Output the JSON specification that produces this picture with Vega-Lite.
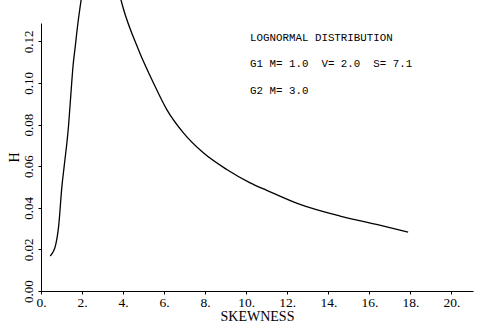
{
  "$schema": "https://vega.github.io/schema/vega-lite/v6.json",
  "width": 432,
  "height": 268,
  "autosize": "none",
  "padding": {"left": 41, "top": 23, "right": 5, "bottom": 37},
  "background": "white",
  "config": {"view": {"stroke": null}},
  "datasets": {
    "curve": [
      {"branch": "a", "s": 0.45, "h": 0.0168},
      {"branch": "a", "s": 0.6, "h": 0.019},
      {"branch": "a", "s": 0.7, "h": 0.0216},
      {"branch": "a", "s": 0.86, "h": 0.0312},
      {"branch": "a", "s": 1.02, "h": 0.0504},
      {"branch": "a", "s": 1.13, "h": 0.06},
      {"branch": "a", "s": 1.34, "h": 0.0792},
      {"branch": "a", "s": 1.46, "h": 0.0952},
      {"branch": "a", "s": 1.56, "h": 0.108},
      {"branch": "a", "s": 1.67, "h": 0.1176},
      {"branch": "a", "s": 1.8, "h": 0.1288},
      {"branch": "a", "s": 1.91, "h": 0.1368},
      {"branch": "a", "s": 2.0, "h": 0.143},
      {"branch": "b", "s": 3.88, "h": 0.1405},
      {"branch": "b", "s": 3.99, "h": 0.1365},
      {"branch": "b", "s": 4.75, "h": 0.116},
      {"branch": "b", "s": 5.48, "h": 0.1},
      {"branch": "b", "s": 6.13, "h": 0.0872},
      {"branch": "b", "s": 6.94, "h": 0.076},
      {"branch": "b", "s": 7.91, "h": 0.0664},
      {"branch": "b", "s": 9.05, "h": 0.0584},
      {"branch": "b", "s": 10.19, "h": 0.052},
      {"branch": "b", "s": 11.0, "h": 0.0484},
      {"branch": "b", "s": 12.62, "h": 0.0416},
      {"branch": "b", "s": 14.57, "h": 0.036},
      {"branch": "b", "s": 16.35, "h": 0.032},
      {"branch": "b", "s": 17.89, "h": 0.0283}
    ],
    "notes": [
      {"s": 10.19, "h": 0.1218, "label": "LOGNORMAL DISTRIBUTION"},
      {"s": 10.19, "h": 0.1093, "label": "G1 M= 1.0\u00a0\u00a0V= 2.0\u00a0\u00a0S= 7.1"},
      {"s": 10.19, "h": 0.0963, "label": "G2 M= 3.0"}
    ]
  },
  "layer": [
    {
      "data": {"name": "curve"},
      "mark": {"type": "line", "color": "black", "strokeWidth": 1.3, "interpolate": "monotone"},
      "encoding": {
        "x": {
          "field": "s", "type": "quantitative",
          "scale": {"domain": [0, 21.05], "nice": false, "zero": false},
          "axis": {
            "title": "SKEWNESS",
            "values": [0,1,2,3,4,5,6,7,8,9,10,11,12,13,14,15,16,17,18,19,20,21],
            "labelExpr": "datum.value % 2 == 0 && datum.value <= 20 ? format(datum.value, 'd') + '.' : ''",
            "grid": false,
            "domainColor": "black",
            "tickColor": "black",
            "tickSize": 3,
            "labelPadding": 1,
            "labelFont": "Liberation Serif",
            "labelFontSize": 13.5,
            "labelColor": "black",
            "labelFlush": false,
            "labelOverlap": false,
            "titleFont": "Liberation Serif",
            "titleFontSize": 14,
            "titleFontWeight": "normal",
            "titleColor": "black",
            "titlePadding": 1
          }
        },
        "y": {
          "field": "h", "type": "quantitative",
          "scale": {"domain": [0, 0.1288], "nice": false, "zero": false},
          "axis": {
            "title": "H",
            "values": [0,0.01,0.02,0.03,0.04,0.05,0.06,0.07,0.08,0.09,0.1,0.11,0.12],
            "labelExpr": "round(datum.value * 100) % 2 == 0 ? format(datum.value, '.2f') : ''",
            "grid": false,
            "domainColor": "black",
            "tickColor": "black",
            "tickSize": 3,
            "labelAngle": 270,
            "labelAlign": "center",
            "labelBaseline": "bottom",
            "labelPadding": 3,
            "labelFont": "Liberation Serif",
            "labelFontSize": 13,
            "labelColor": "black",
            "labelFlush": false,
            "labelOverlap": false,
            "titleFont": "Liberation Serif",
            "titleFontSize": 14,
            "titleFontWeight": "normal",
            "titleColor": "black",
            "titlePadding": 1
          }
        },
        "detail": {"field": "branch"}
      }
    },
    {
      "data": {"name": "notes"},
      "mark": {"type": "text", "align": "left", "baseline": "middle", "font": "Liberation Mono", "fontSize": 10.8, "color": "black"},
      "encoding": {
        "x": {"field": "s", "type": "quantitative"},
        "y": {"field": "h", "type": "quantitative"},
        "text": {"field": "label"}
      }
    }
  ]
}
